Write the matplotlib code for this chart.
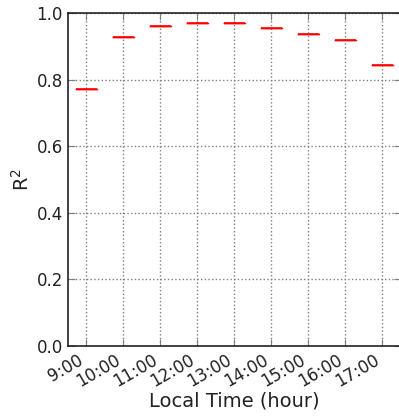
import matplotlib
matplotlib.use("Agg")
import matplotlib.pyplot as plt

hours = ["9:00", "10:00", "11:00", "12:00", "13:00", "14:00", "15:00", "16:00", "17:00"]
r2_values = [0.772, 0.928, 0.961, 0.969, 0.969, 0.956, 0.938, 0.919, 0.844]
y_ticks = [0.0, 0.2, 0.4, 0.6, 0.8, 1.0]

fig = plt.figure(figsize=(3.99, 4.17), dpi=100)
ax = fig.add_axes([0.170, 0.170, 0.835, 0.799])

ax.boxplot([[v] for v in r2_values], widths=0.55,
           boxprops=dict(color='red', linewidth=1.0),
           medianprops=dict(color='red', linewidth=1.1),
           whiskerprops=dict(color='red', linewidth=0.8),
           capprops=dict(color='red', linewidth=0.8),
           showfliers=False, showcaps=False)
ax.set_xlim(0.5, 9.5)
ax.set_ylim(0, 1.0)
ax.set_yticks(y_ticks)
ax.set_yticklabels([f"{t:.1f}" for t in y_ticks], fontsize=12)
ax.set_xticks(range(1, len(hours) + 1))
ax.set_xticklabels(hours, rotation=30, ha='right', fontsize=12)
ax.grid(True, linestyle=':', color='gray', linewidth=1)
ax.tick_params(direction='in', top=True, right=True, length=5, color='gray', labelcolor='#222222')
for s in ax.spines.values():
    s.set_linewidth(1.2)
    s.set_color('#222222')
ax.set_ylabel(r"R$^2$", fontsize=14, color='#222222', labelpad=3)
ax.set_xlabel("Local Time (hour)", fontsize=14, color='#222222', labelpad=1)

fig.savefig("out.png", dpi=100)
